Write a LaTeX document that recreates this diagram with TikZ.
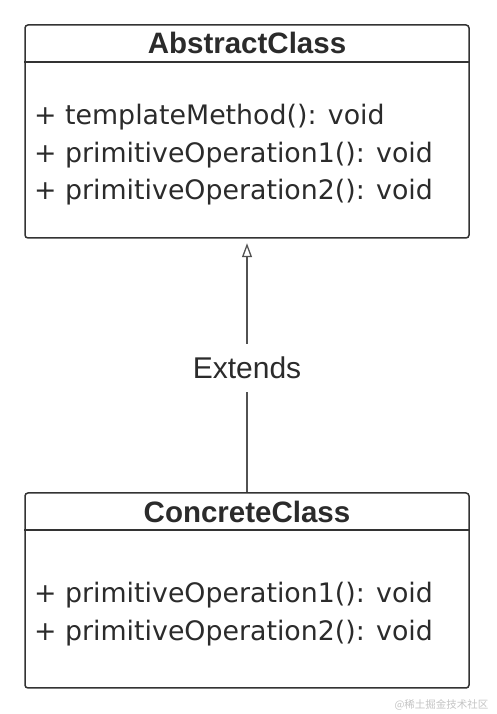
\documentclass[tikz,border=0pt]{standalone}
\usepackage{fontspec}
\setmainfont{DejaVu Sans}
\newfontfamily\headfont{Liberation Sans}
\newfontfamily\cjkfont{Noto Sans CJK SC}
\usetikzlibrary{positioning, arrows.meta, calc}
\definecolor{cLine}{HTML}{333333}
\definecolor{cText}{HTML}{2B2B2B}
\definecolor{cMark}{HTML}{C4C4C4}
\tikzset{
  classbox/.style={
    draw=cLine, line width=1.5pt, rounded corners=3pt,
    minimum width=444pt, inner sep=0pt
  },
  classtitle/.style={
    font=\headfont\bfseries\fontsize{29.5}{30}\selectfont, text=cText,
    inner sep=0pt, anchor=base
  },
  member/.style={
    font=\fontsize{26.8}{30}\selectfont, text=cText,
    inner sep=0pt, anchor=base west
  },
  divider/.style={
    draw=cLine, line width=1.5pt
  },
  extendsarrow/.style={
    -{Triangle[open, length=14pt, width=10pt]}, draw=cLine!85,
    line width=1.3pt, shorten >=4.5pt
  },
  edgelabel/.style={
    font=\headfont\fontsize{30}{32}\selectfont, text=cText, fill=white,
    inner xsep=4pt, inner ysep=13pt
  },
}

\begin{document}
\begin{tikzpicture}[x=1pt, y=1pt]
\useasboundingbox (0,0) rectangle (496,714);

% ---- AbstractClass ----
\node[classbox, minimum height=213pt] (abstract) at (247,582.5) {};
\node[classtitle] (abstractname) at ($(abstract.north)+(0,-29)$) {AbstractClass};
\coordinate (absdivl) at ($(abstract.north west)+(0,-38)$);
\coordinate (absdivr) at ($(abstract.north east)+(0,-38)$);
\draw[divider] (absdivl) -- (absdivr);

\node[member] (absop1) at (34,589) {+ templateMethod(): void};
\node[member] (absop2) at (34,551.5) {+ primitiveOperation1(): void};
\node[member] (absop3) at (34,514) {+ primitiveOperation2(): void};

% ---- ConcreteClass ----
\node[classbox, minimum height=195pt] (concrete) at (247,123.5) {};
\node[classtitle] (concretename) at ($(concrete.north)+(0,-30)$) {ConcreteClass};
\coordinate (condivl) at ($(concrete.north west)+(0,-38)$);
\coordinate (condivr) at ($(concrete.north east)+(0,-38)$);
\draw[divider] (condivl) -- (condivr);

\node[member] (conop1) at (34,111) {+ primitiveOperation1(): void};
\node[member] (conop2) at (34,73) {+ primitiveOperation2(): void};

% ---- generalisation ----
\draw[extendsarrow] (concrete.north) -- (abstract.south)
  node[edgelabel, pos=0.49] (extends) {Extends};

% watermark
\node[font=\cjkfont\fontsize{10.5}{12}\selectfont, text=cMark, anchor=east]
  (mark) at (492,9) {@稀土掘金技术社区};

\end{tikzpicture}
\end{document}
